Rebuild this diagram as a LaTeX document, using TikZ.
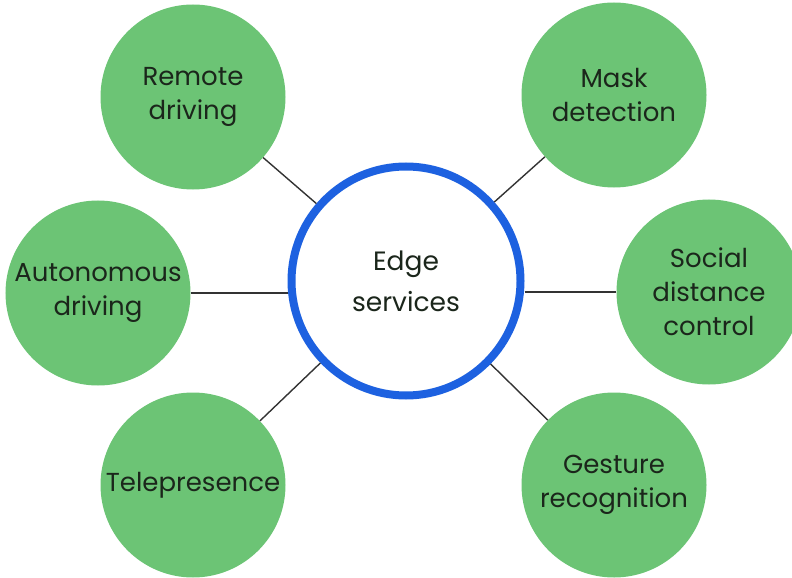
\documentclass[tikz,border=0pt]{standalone}
\usepackage{fontspec}
\setmainfont{Poppins}
\definecolor{leaf}{HTML}{6CC475}
\definecolor{ringblue}{HTML}{1D61E0}
\definecolor{ink}{HTML}{1B261B}
\tikzset{
  service/.style={circle, fill=leaf, minimum size=185bp, inner sep=0pt, align=center, text=ink, font=\fontsize{26bp}{34bp}\selectfont},
  hub/.style={circle, draw=ringblue, line width=8bp, fill=white, minimum size=229bp, inner sep=0pt, align=center, text=ink, font=\fontsize{26.5bp}{41bp}\selectfont},
  link/.style={draw=black!80, line width=1.4bp}
}
\begin{document}
\begin{tikzpicture}[x=1bp, y=-1bp]
		\clip (0,0) rectangle (792,578);
		\node[hub] (edge) at (406,281) {Edge\\services};
		\node[service] (remote) at (193,97) {Remote\\driving};
		\node[service] (mask) at (614,95) {Mask\\detection};
		\node[service] (auto) at (98,293) {Autonomous\\driving};
		\node[service] (social) at (709,292) {Social\\distance\\control};
		\node[service] (tele) at (193,485) {Telepresence};
		\node[service] (gesture) at (614,485) {Gesture\\recognition};
		\draw[link] (edge) -- (remote);
		\draw[link] (edge) -- (mask);
		\draw[link] (auto.east) -- (edge.west |- auto.east);
		\draw[link] (social.west) -- (edge.east |- social.west);
		\draw[link] (edge) -- (tele);
		\draw[link] (edge) -- (gesture);
\end{tikzpicture}
\end{document}
